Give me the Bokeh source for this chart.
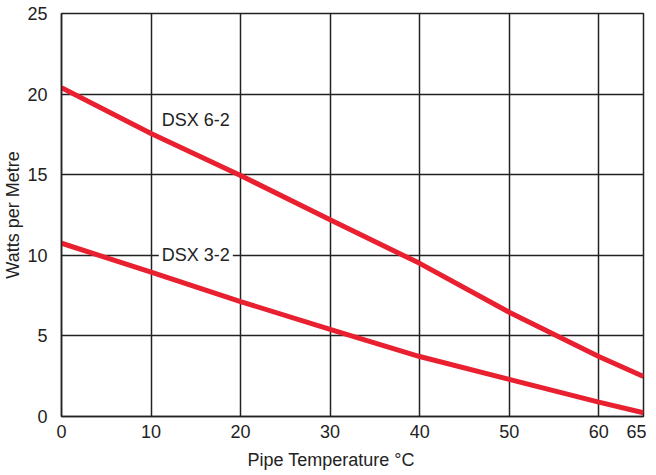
from bokeh.plotting import figure
from bokeh.models import FixedTicker, Range1d, Label, Title
from bokeh.embed import file_html
from bokeh.resources import INLINE

temp = [0, 10, 20, 30, 40, 50, 60, 65]
dsx62 = [20.4, 17.55, 14.95, 12.2, 9.5, 6.47, 3.72, 2.48]
dsx32 = [10.75, 8.95, 7.13, 5.4, 3.72, 2.3, 0.89, 0.23]
x_ticks = [0, 10, 20, 30, 40, 50, 60, 65]
y_ticks = [0, 5, 10, 15, 20, 25]
series_names = ["DSX 6-2", "DSX 3-2"]
label_pos = [(15.0, 18.4), (15.0, 10.0)]

FONT = "Liberation Sans"
RED = "#E8202F"
INK = "#222222"

p = figure(width=640, height=466, output_backend="svg", toolbar_location=None,
           x_range=Range1d(0, 65), y_range=Range1d(0, 25),
           min_border_left=55, min_border_top=13, min_border_right=3, min_border_bottom=2)
p.frame_width = 582
p.frame_height = 403

for ax, ticks in ((p.xaxis, x_ticks), (p.yaxis, y_ticks)):
    ax.ticker = FixedTicker(ticks=ticks)
    ax.major_tick_line_color = None
    ax.minor_tick_line_color = None
    ax.axis_line_color = INK
    ax.axis_line_width = 1.5
    ax.major_label_text_font = FONT
    ax.major_label_text_font_size = "18px"
    ax.major_label_text_color = INK
    ax.axis_label_text_font = FONT
    ax.axis_label_text_font_size = "18px"
    ax.axis_label_text_font_style = "normal"
    ax.axis_label_text_color = INK

p.yaxis.axis_label = "Watts per Metre"
p.xaxis.major_label_standoff = 2
p.yaxis.major_label_standoff = 8
p.yaxis.axis_label_standoff = 1

p.add_layout(Title(text="Pipe Temperature °C", align="left", offset=186,
                   text_font=FONT, text_font_size="18px", text_font_style="normal",
                   text_color=INK, standoff=14), "below")

p.xgrid.ticker = FixedTicker(ticks=x_ticks)
p.ygrid.ticker = FixedTicker(ticks=y_ticks)
for g in (p.xgrid, p.ygrid):
    g.grid_line_color = INK
    g.grid_line_width = 1.5
    g.grid_line_alpha = 1.0
p.outline_line_color = INK
p.outline_line_width = 1.5

p.line(temp, dsx62, line_color=RED, line_width=5)
p.line(temp, dsx32, line_color=RED, line_width=5)

for name, (lx, ly) in zip(series_names, label_pos):
    p.add_layout(Label(x=lx, y=ly, text=name, text_font=FONT, text_font_size="18px",
                       text_color=INK, text_align="center", text_baseline="middle",
                       background_fill_color="white" if ly == 10.0 else None,
                       padding=3))

open("out.html", "w").write(file_html(p, INLINE))
